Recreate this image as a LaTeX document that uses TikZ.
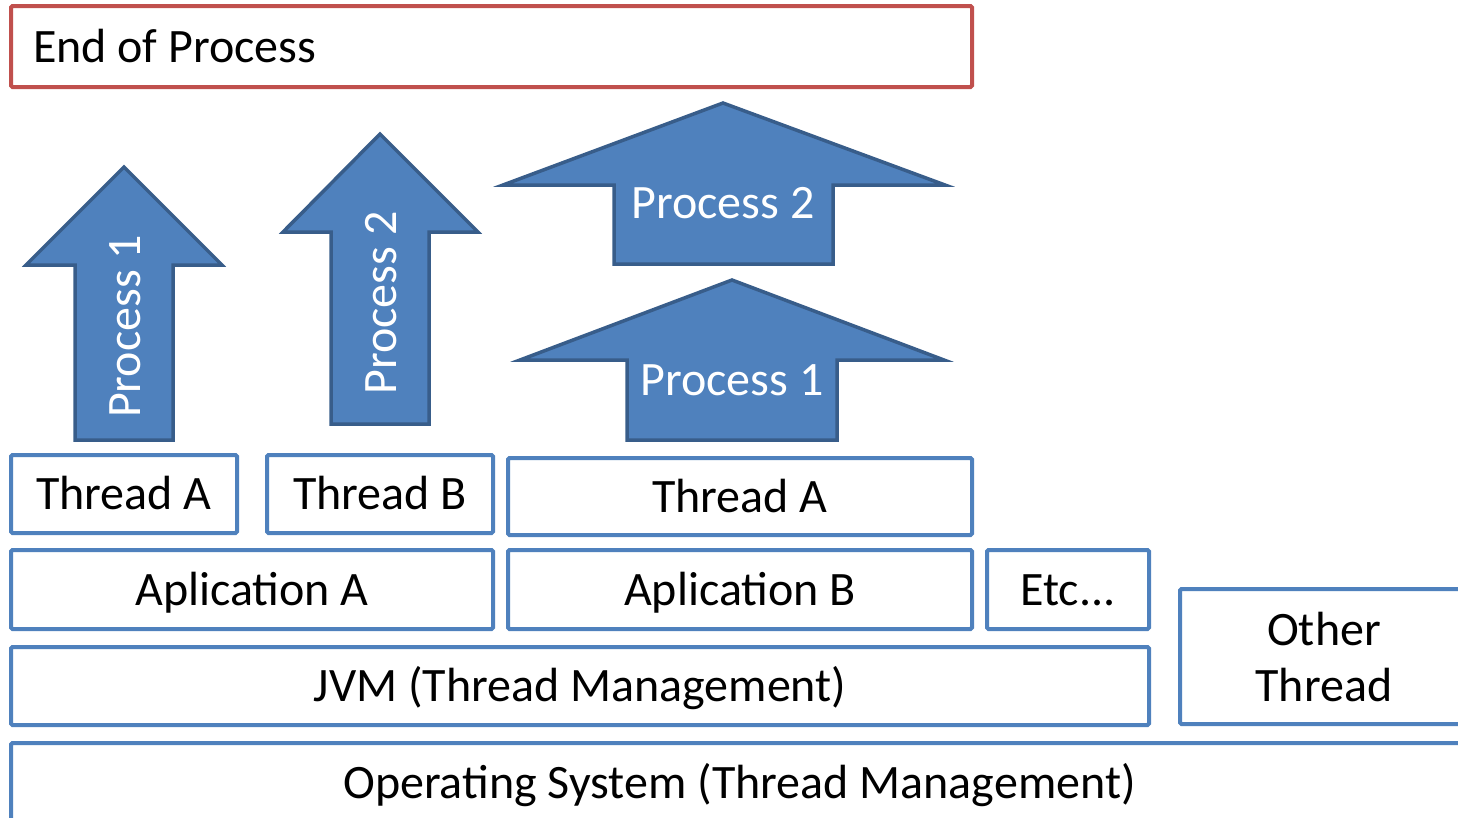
\documentclass[tikz,border=0pt]{standalone}
\usepackage{fontspec}
\setmainfont{Carlito}
\definecolor{boxblue}{HTML}{4F81BD}
\definecolor{arrowedge}{HTML}{385D8A}
\definecolor{endred}{HTML}{C0504D}
\begin{document}
\begin{tikzpicture}[x=1pt,y=-1pt,
  every node/.style={font=\fontsize{48}{56}\selectfont, text height=31pt, text depth=0pt},
  layerbox/.style={draw=boxblue, line width=4pt, fill=white, rounded corners=1.5pt,
    inner sep=0pt, align=center},
  endbox/.style={draw=endred, line width=4pt, fill=white, rounded corners=1.5pt,
    inner sep=0pt},
  bigarrow/.style={draw=arrowedge, fill=boxblue, line width=3.5pt, line join=miter},
  arrowlabel/.style={text=white, inner sep=0pt}]
\useasboundingbox (0,0) rectangle (1458,817);
\clip (0,0) rectangle (1458,817);

% top bar
\node[endbox, minimum width=961pt, minimum height=81pt, text width=917pt,
  inner xsep=22pt, align=flush left] (end) at (491.5,46.5) {End of Process};

% process arrows over the two single-thread boxes
\draw[bigarrow] (124,167) -- (222,265) -- (173,265) -- (173,440) -- (75,440)
  -- (75,265) -- (26,265) -- cycle;
\node[arrowlabel, rotate=90] (p1a) at (124.5,326.5) {Process 1};
\draw[bigarrow] (380,134) -- (478,232) -- (429,232) -- (429,424) -- (331,424)
  -- (331,232) -- (283,232) -- cycle;
\node[arrowlabel, rotate=90] (p2a) at (381,303) {Process 2};

% stacked processes over the shared thread
\draw[bigarrow] (723,103) -- (945,185) -- (833,185) -- (833,264) -- (614,264)
  -- (614,185) -- (503,185) -- cycle;
\node[arrowlabel] (p2b) at (723,203) {Process 2};
\draw[bigarrow] (732,280) -- (944,360) -- (837,360) -- (837,440) -- (627,440)
  -- (627,360) -- (520,360) -- cycle;
\node[arrowlabel] (p1b) at (732,380) {Process 1};

% threads
\node[layerbox, minimum width=226pt, minimum height=78pt] (ta) at (124,494) {Thread A};
\node[layerbox, minimum width=226pt, minimum height=78pt] (tb) at (380,494) {Thread B};
\node[layerbox, minimum width=464pt, minimum height=77pt] (ta2) at (740,496.5) {Thread A};

% applications
\node[layerbox, minimum width=482pt, minimum height=79pt] (appa) at (252,589.5) {Aplication A};
\node[layerbox, minimum width=464pt, minimum height=79pt] (appb) at (740,589.5) {Aplication B};
\node[layerbox, minimum width=162pt, minimum height=79pt] (etc) at (1068,589.5) {Etc...};

% runtime and system layers
\node[layerbox, minimum width=1138pt, minimum height=78pt] (jvm) at (580,686) {JVM (Thread Management)};
\node[layerbox, minimum width=288pt, minimum height=135pt, text height={}, text depth={}]
  (other) at (1324,656.5) {Other\\Thread};
\node[layerbox, minimum width=1457pt, minimum height=80pt] (os) at (739.5,783) {Operating System (Thread Management)};
\end{tikzpicture}
\end{document}
